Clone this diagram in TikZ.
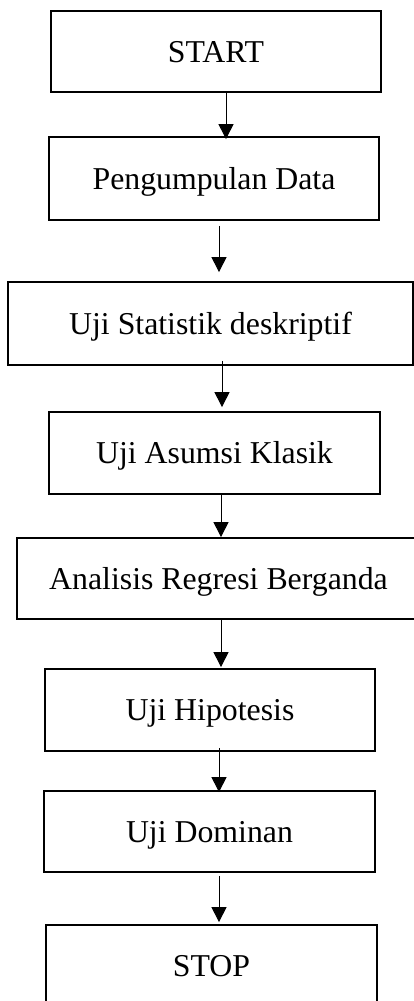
\documentclass[tikz,border=0pt]{standalone}
\usepackage{fontspec}
\setmainfont{Liberation Serif}
\usetikzlibrary{arrows.meta,calc}
\tikzset{
  box/.style={draw, line width=1.8pt, rectangle, inner sep=0pt,
    font=\fontsize{31.8}{38}\selectfont, text height=21pt, text depth=0pt, anchor=center},
  arr/.style={-{Triangle[length=15pt,width=15pt]}, line width=1pt}
}
\begin{document}
\begin{tikzpicture}[x=1pt,y=-1pt]
\useasboundingbox (0,0) rectangle (414,1001);
\clip (0,0) rectangle (414,1001);
\node[box, minimum width=330pt, minimum height=81pt] (s1) at (216,51.5) {START};
\node[box, minimum width=330pt, minimum height=83pt] (s2) at (214,178.5) {Pengumpulan Data};
\node[box, minimum width=405pt, minimum height=83pt] (s3) at (210.5,323.5) {Uji Statistik deskriptif};
\node[box, minimum width=331pt, minimum height=82pt] (s4) at (214.5,453) {Uji Asumsi Klasik};
\node[box, minimum width=403pt, minimum height=81pt] (s5) at (218.5,578.5) {Analisis Regresi Berganda};
\node[box, minimum width=330pt, minimum height=82pt] (s6) at (210,710) {Uji Hipotesis};
\node[box, minimum width=331pt, minimum height=81pt] (s7) at (209.5,831.5) {Uji Dominan};
\node[box, minimum width=331pt, minimum height=82pt] (s8) at (211.5,966) {STOP};
\coordinate (c1) at (226,0);
\coordinate (c2) at (219,0);
\coordinate (c3) at (222,0);
\coordinate (c4) at (221,0);
\coordinate (c6) at (219,0);
\draw[arr] (s1.south -| c1) -- ($(s2.north -| c1)+(0,3)$);
\draw[arr] ($(s2.south -| c2)+(0,5)$) -- ($(s3.north -| c2)+(0,-9)$);
\draw[arr] ($(s3.south -| c3)+(0,-5)$) -- ($(s4.north -| c3)+(0,-4)$);
\draw[arr] (s4.south -| c4) -- (s5.north -| c4);
\draw[arr] (s5.south -| c4) -- ($(s6.north -| c4)+(0,-1)$);
\draw[arr] ($(s6.south -| c6)+(0,-4)$) -- ($(s7.north -| c6)+(0,2)$);
\draw[arr] ($(s7.south -| c6)+(0,3)$) -- ($(s8.north -| c6)+(0,-2)$);
\end{tikzpicture}
\end{document}
